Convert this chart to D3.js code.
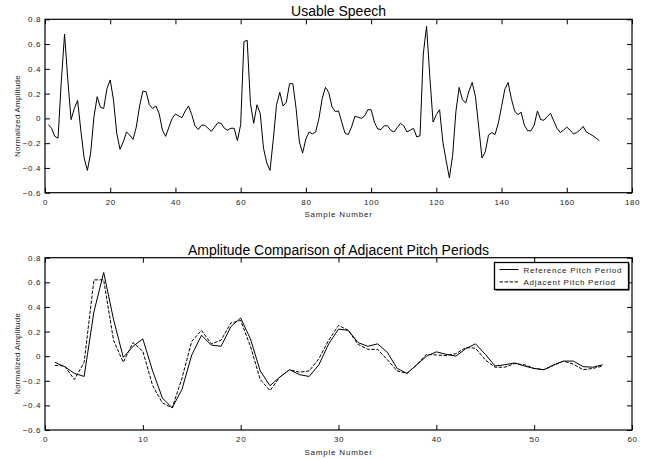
<!DOCTYPE html>
<html>
<head>
<meta charset="utf-8">
<script src="https://cdn.jsdelivr.net/npm/d3@7"></script>
<style>
  body { margin: 0; background: #fff; }
  svg { display: block; font-family: "Liberation Sans", Arial, sans-serif; }
  .tick text { font-size: 8px; letter-spacing: 0.6px; fill: #222; }
</style>
</head>
<body>
<div id="chart"></div>
<script>
// speech samples, normalized amplitude
const speech = [
  -0.05, -0.08, -0.145, -0.16, 0.30, 0.68, 0.31, -0.01, 0.08, 0.145,
  -0.10, -0.32, -0.42, -0.28, 0.01, 0.175, 0.09, 0.08, 0.24, 0.31,
  0.15, -0.12, -0.25, -0.19, -0.11, -0.135, -0.17, -0.07, 0.10, 0.22,
  0.215, 0.11, 0.08, 0.10, 0.04, -0.095, -0.145, -0.07, 0.0, 0.035,
  0.02, 0.005, 0.06, 0.10, 0.03, -0.06, -0.09, -0.055, -0.055, -0.08,
  -0.105, -0.07, -0.035, -0.04, -0.08, -0.095, -0.08, -0.08, -0.18, -0.05,
  0.62, 0.63, 0.12, -0.04, 0.11, 0.04, -0.24, -0.36, -0.42, -0.17,
  0.11, 0.21, 0.10, 0.13, 0.28, 0.28, 0.08, -0.19, -0.28, -0.165,
  -0.11, -0.125, -0.11, 0.0, 0.16, 0.25, 0.21, 0.095, 0.055, 0.06,
  -0.03, -0.12, -0.13, -0.07, 0.015, 0.01, 0.0, 0.02, 0.07, 0.07,
  -0.03, -0.085, -0.09, -0.06, -0.06, -0.095, -0.11, -0.075, -0.04, -0.06,
  -0.11, -0.095, -0.08, -0.15, -0.14, 0.52, 0.745, 0.34, -0.03, 0.03,
  0.07, -0.19, -0.34, -0.48, -0.30, 0.055, 0.25, 0.15, 0.125, 0.22,
  0.29, 0.175, -0.07, -0.32, -0.27, -0.135, -0.115, -0.13, -0.04, 0.095,
  0.235, 0.29, 0.16, 0.06, 0.03, 0.05, -0.055, -0.10, -0.10, -0.055,
  0.06, -0.01, -0.015, 0.015, 0.04, -0.02, -0.08, -0.115, -0.095, -0.07,
  -0.095, -0.125, -0.115, -0.095, -0.065, -0.11, -0.125, -0.14, -0.16, -0.18
]

const referencePeriod = [
  -0.05, -0.085, -0.14, -0.165, 0.36, 0.68, 0.30, -0.01, 0.08, 0.14,
  -0.12, -0.34, -0.42, -0.27, 0.01, 0.17, 0.09, 0.08, 0.24, 0.31,
  0.14, -0.12, -0.24, -0.17, -0.11, -0.15, -0.165, -0.07, 0.10, 0.22,
  0.21, 0.11, 0.08, 0.10, 0.03, -0.10, -0.14, -0.07, 0.0, 0.035,
  0.015, 0.0, 0.06, 0.10, 0.015, -0.08, -0.07, -0.055, -0.08, -0.10,
  -0.11, -0.07, -0.04, -0.04, -0.085, -0.09, -0.07
]

const adjacentPeriod = [
  -0.075, -0.08, -0.19, -0.05, 0.62, 0.62, 0.13, -0.05, 0.11, 0.04,
  -0.24, -0.38, -0.42, -0.18, 0.12, 0.21, 0.10, 0.13, 0.27, 0.29,
  0.08, -0.19, -0.28, -0.17, -0.11, -0.13, -0.12, -0.02, 0.13, 0.25,
  0.21, 0.095, 0.055, 0.055, -0.03, -0.12, -0.14, -0.07, 0.015, 0.01,
  0.005, 0.02, 0.07, 0.065, -0.03, -0.09, -0.09, -0.06, -0.07, -0.10,
  -0.11, -0.075, -0.04, -0.065, -0.11, -0.10, -0.08
]

const yTicks = [-0.6, -0.4, -0.2, 0, 0.2, 0.4, 0.6, 0.8]
const topXTicks = [0, 20, 40, 60, 80, 100, 120, 140, 160, 180]
const bottomXTicks = [0, 10, 20, 30, 40, 50, 60]
const legendLabels = ['Reference Pitch Period', 'Adjacent Pitch Period']

const width = 646
const height = 459

const svg = d3.select('#chart').append('svg')
  .attr('width', width)
  .attr('height', height)

function drawPanel(opts) {
  const { top, bottom, xMax, xTicks, title, series } = opts
  const left = 45
  const right = 632
  const x = d3.scaleLinear().domain([0, xMax]).range([left, right])
  const y = d3.scaleLinear().domain([-0.6, 0.8]).range([bottom, top])
  const g = svg.append('g')
  const fmtY = d => (d === 0 ? '0' : d3.format('.1f')(d))

  // ticks point inward on all four sides
  g.append('g')
    .attr('transform', `translate(0,${bottom})`)
    .call(d3.axisBottom(x).tickValues(xTicks).tickSize(-5).tickSizeOuter(0).tickPadding(6.5))
  g.append('g')
    .attr('transform', `translate(0,${top})`)
    .call(d3.axisTop(x).tickValues(xTicks).tickSize(-5).tickSizeOuter(0).tickFormat(''))
  g.append('g')
    .attr('transform', `translate(${left},0)`)
    .call(d3.axisLeft(y).tickValues(yTicks).tickSize(-5).tickSizeOuter(0).tickPadding(4).tickFormat(fmtY))
  g.append('g')
    .attr('transform', `translate(${right},0)`)
    .call(d3.axisRight(y).tickValues(yTicks).tickSize(-5).tickSizeOuter(0).tickFormat(''))
  g.selectAll('.domain').remove()
  g.selectAll('.tick line').attr('stroke', '#000')

  g.append('rect')
    .attr('x', left).attr('y', top)
    .attr('width', right - left).attr('height', bottom - top)
    .attr('fill', 'none').attr('stroke', '#000').attr('stroke-width', 1.2)

  const line = d3.line()
    .x((d, i) => x(i + 1))
    .y(d => y(d))

  series.forEach(s => {
    g.append('path')
      .datum(s.values)
      .attr('d', line)
      .attr('fill', 'none')
      .attr('stroke', '#000')
      .attr('stroke-width', 1)
      .attr('stroke-dasharray', s.dash || null)
  })

  g.append('text')
    .attr('x', (left + right) / 2)
    .attr('y', top - 3)
    .attr('text-anchor', 'middle')
    .style('font-size', '14px')
    .text(title)

  g.append('text')
    .attr('x', (left + right) / 2)
    .attr('y', bottom + 24.5)
    .attr('text-anchor', 'middle')
    .style('font-size', '8px')
    .style('letter-spacing', '0.8px')
    .attr('fill', '#222')
    .text('Sample Number')

  g.append('text')
    .attr('transform', `translate(20,${(top + bottom) / 2 + 10}) rotate(-90)`)
    .attr('text-anchor', 'middle')
    .style('font-size', '8px')
    .style('letter-spacing', '0.2px')
    .attr('fill', '#222')
    .text('Normalized Amplitude')

  return { g, x, y }
}

drawPanel({
  top: 19.3,
  bottom: 192.7,
  xMax: 180,
  xTicks: topXTicks,
  title: 'Usable Speech',
  series: [{ values: speech }]
})

const lower = drawPanel({
  top: 257.7,
  bottom: 430,
  xMax: 60,
  xTicks: bottomXTicks,
  title: 'Amplitude Comparison of Adjacent Pitch Periods',
  series: [
    { values: referencePeriod },
    { values: adjacentPeriod, dash: '3.5,1.5' }
  ]
})

// legend
const legend = lower.g.append('g').attr('transform', 'translate(494.5,262.5)')
legend.append('rect')
  .attr('x', 1).attr('y', 1)
  .attr('width', 134).attr('height', 27)
  .attr('fill', '#000')
legend.append('rect')
  .attr('width', 134).attr('height', 27)
  .attr('fill', '#fff').attr('stroke', '#000').attr('stroke-width', 1.3)
legendLabels.forEach((label, i) => {
  const ly = 7 + i * 12.4
  legend.append('line')
    .attr('x1', 5).attr('x2', 24)
    .attr('y1', ly).attr('y2', ly)
    .attr('stroke', '#000')
    .attr('stroke-dasharray', i === 1 ? '3.5,1.5' : null)
  legend.append('text')
    .attr('x', 29).attr('y', ly + 3)
    .style('font-size', '8px')
    .style('letter-spacing', '0.75px')
    .attr('fill', '#222')
    .text(label)
})
</script>
</body>
</html>
